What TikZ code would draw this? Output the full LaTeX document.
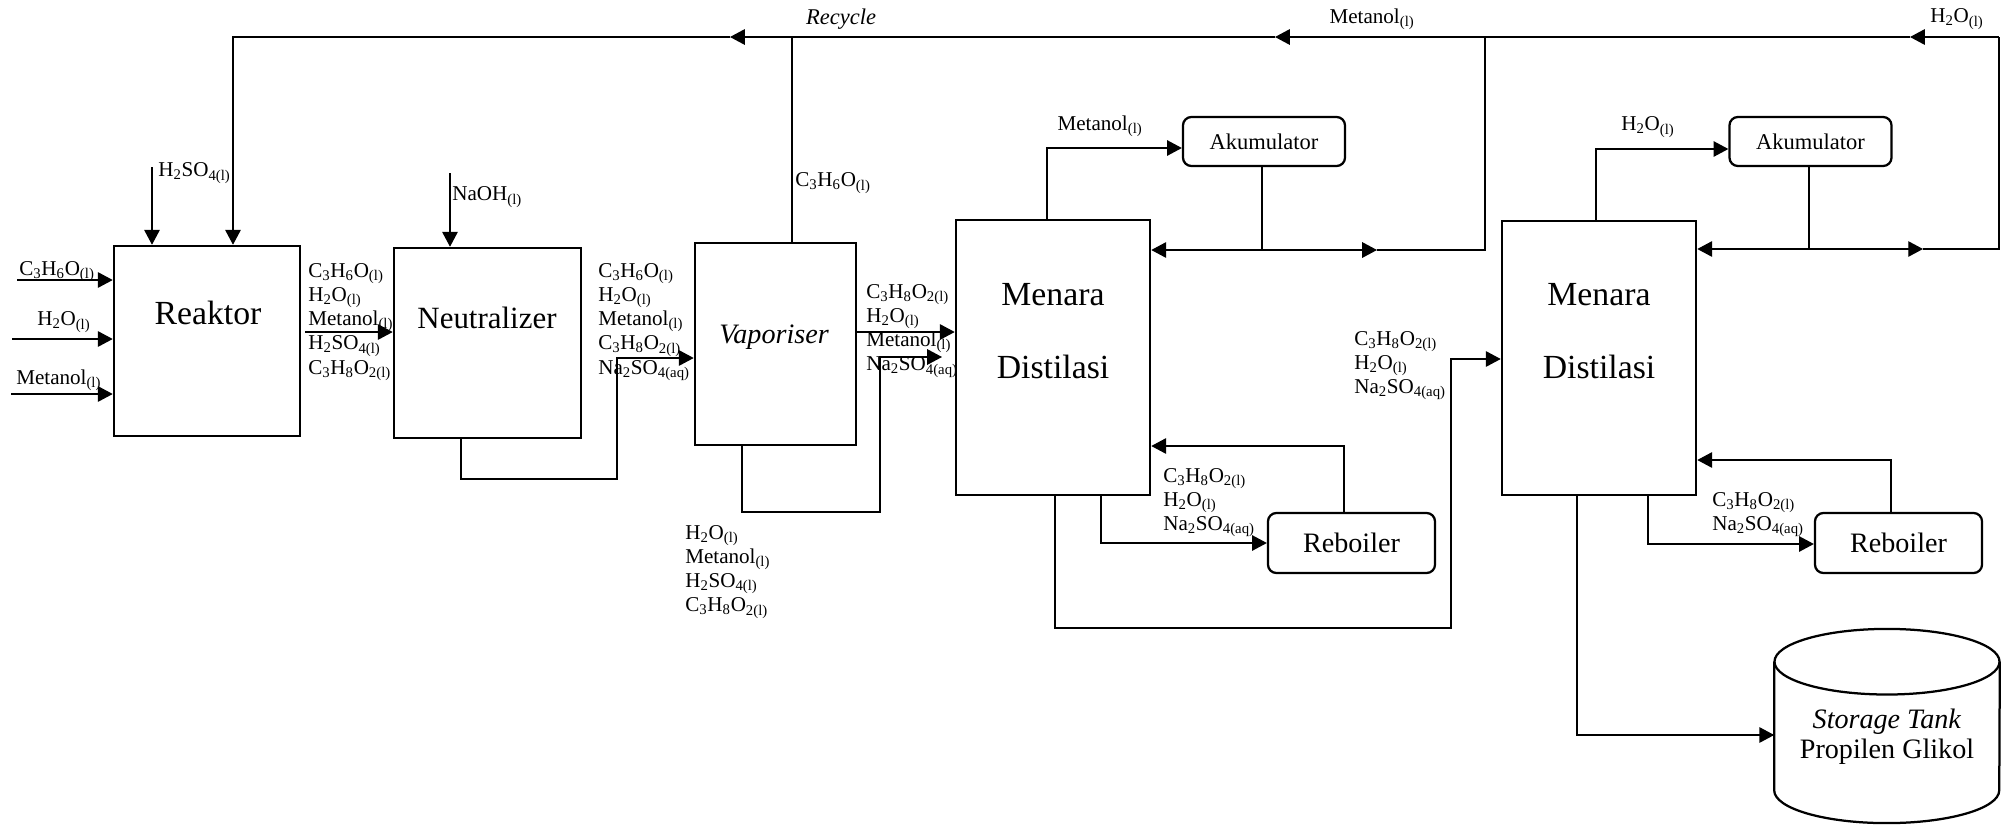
\documentclass[tikz,border=0pt]{standalone}
\usepackage{fontspec}
\setmainfont{Liberation Serif}
\usetikzlibrary{arrows.meta}

\newcommand{\subs}[1]{\textsubscript{#1}}

\tikzset{
  unit/.style={draw, fill=white, line width=1.8pt, inner sep=0pt},
  rbox/.style={draw, line width=1.6pt, rounded corners=6pt, inner sep=0pt},
  flow/.style={line width=0.9pt},
  lbl/.style={inner sep=0pt, font=\fontsize{15}{17.2}\selectfont, align=left},
  big/.style={font=\fontsize{24}{28}\selectfont},
}

\begin{document}
\begin{tikzpicture}[x=0.025cm, y=-0.025cm, >={Triangle[length=10.5pt,width=11pt]}]
\useasboundingbox (0,0) rectangle (2008,824);

% stream labels
\node[lbl, anchor=south west] (lfc) at (19,282) {C\subs{3}H\subs{6}O\subs{(l)}};
\node[lbl, anchor=west] (lfw) at (37,322) {H\subs{2}O\subs{(l)}};
\node[lbl, anchor=west] (lfm) at (16,380) {Metanol\subs{(l)}};
\node[lbl, anchor=west] (lfs) at (158,173) {H\subs{2}SO\subs{4(l)}};
\node[lbl, anchor=west] (lnaoh) at (452,197) {NaOH\subs{(l)}};
\node[lbl, anchor=north west] (lrn) at (308,263) {C\subs{3}H\subs{6}O\subs{(l)}\\H\subs{2}O\subs{(l)}\\Metanol\subs{(l)}\\H\subs{2}SO\subs{4(l)}\\C\subs{3}H\subs{8}O\subs{2(l)}};
\node[lbl, anchor=north west] (lnv) at (598,263) {C\subs{3}H\subs{6}O\subs{(l)}\\H\subs{2}O\subs{(l)}\\Metanol\subs{(l)}\\C\subs{3}H\subs{8}O\subs{2(l)}\\Na\subs{2}SO\subs{4(aq)}};
\node[lbl, anchor=west] (lrc) at (795,183) {C\subs{3}H\subs{6}O\subs{(l)}};
\node[lbl, anchor=north west] (lvc) at (866,284) {C\subs{3}H\subs{8}O\subs{2(l)}\\H\subs{2}O\subs{(l)}\\Metanol\subs{(l)}\\Na\subs{2}SO\subs{4(aq)}};
\node[lbl, anchor=north west] (lvb) at (685,525) {H\subs{2}O\subs{(l)}\\Metanol\subs{(l)}\\H\subs{2}SO\subs{4(l)}\\C\subs{3}H\subs{8}O\subs{2(l)}};
\node[lbl] (lme1) at (1100,126) {Metanol\subs{(l)}};
\node[lbl, anchor=north west] (lcr1) at (1163,468) {C\subs{3}H\subs{8}O\subs{2(l)}\\H\subs{2}O\subs{(l)}\\Na\subs{2}SO\subs{4(aq)}};
\node[lbl, anchor=north west] (lcc) at (1354,331) {C\subs{3}H\subs{8}O\subs{2(l)}\\H\subs{2}O\subs{(l)}\\Na\subs{2}SO\subs{4(aq)}};
\node[lbl] (lw2) at (1648,127) {H\subs{2}O\subs{(l)}};
\node[lbl, anchor=north west] (lcr2) at (1712,492) {C\subs{3}H\subs{8}O\subs{2(l)}\\Na\subs{2}SO\subs{4(aq)}};
\node[font=\fontsize{16}{18}\selectfont\itshape] (lrec) at (841,19) {Recycle};
\node[lbl] (lmet) at (1372,19) {Metanol\subs{(l)}};
\node[lbl] (lwat) at (1957,19) {H\subs{2}O\subs{(l)}};

% process units
\node[unit, minimum width=4.65cm, minimum height=4.75cm] (reak) at (207,341) {};
\node[big] (reaktxt) at (208,313) {Reaktor};
\node[unit, minimum width=4.675cm, minimum height=4.75cm] (neut) at (487.5,343) {};
\node[font=\fontsize{22}{26}\selectfont] (neuttxt) at (487,318) {Neutralizer};
\node[unit, minimum width=4.025cm, minimum height=5.05cm] (vap) at (775.5,344) {};
\node[font=\fontsize{20}{24}\selectfont\itshape] (vaptxt) at (774,337) {Vaporiser};
\node[unit, minimum width=4.85cm, minimum height=6.875cm] (col1) at (1053,357.5) {};
\node[big] (col1a) at (1053,295) {Menara};
\node[big] (col1b) at (1053,367) {Distilasi};
\node[unit, minimum width=4.85cm, minimum height=6.85cm] (col2) at (1599,358) {};
\node[big] (col2a) at (1599,295) {Menara};
\node[big] (col2b) at (1599,367) {Distilasi};

\node[rbox, minimum width=4.05cm, minimum height=1.225cm, font=\fontsize{16}{18}\selectfont] (akum1) at (1264,141.5) {Akumulator};
\node[rbox, minimum width=4.05cm, minimum height=1.225cm, font=\fontsize{16}{18}\selectfont] (akum2) at (1810.5,141.5) {Akumulator};
\node[rbox, minimum width=4.175cm, minimum height=1.5cm, font=\fontsize{20}{22}\selectfont] (reb1) at (1351.5,543) {Reboiler};
\node[rbox, minimum width=4.175cm, minimum height=1.5cm, font=\fontsize{20}{22}\selectfont] (reb2) at (1898.5,543) {Reboiler};

% storage tank
\node[inner sep=0pt, minimum width=5.625cm, minimum height=3.2cm] (tank) at (1887,726) {};
\draw[line width=1.6pt] (tank.north) ellipse [x radius=2.8125cm, y radius=0.82cm];
\draw[line width=1.6pt] (tank.north west) -- (tank.south west)
  arc[start angle=180, end angle=360, x radius=2.8125cm, y radius=0.82cm] -- (tank.north east);
\node[align=center, font=\fontsize{20}{21.5}\selectfont] (tanktxt) at (1887,737) {\textit{Storage Tank}\\Propilen Glikol};

% feeds
\coordinate (fc) at (17,280);
\coordinate (fw) at (12,339);
\coordinate (fm) at (11,394);
\coordinate (fs) at (152,167);
\coordinate (fn) at (450,173);
\draw[flow,->] (fc) -- (fc -| reak.west);
\draw[flow,->] (fw) -- (fw -| reak.west);
\draw[flow,->] (fm) -- (fm -| reak.west);
\draw[flow,->] (fs) -- (fs |- reak.north);
\draw[flow,->] (fn) -- (fn |- neut.north);

% recycle line
\coordinate (tr) at (1999,37);
\coordinate (t1) at (1910,37);
\coordinate (t2) at (1485,37);
\coordinate (t3) at (1275,37);
\coordinate (t4) at (792,37);
\coordinate (t5) at (730,37);
\coordinate (tl) at (233,37);
\draw[flow,->] (tr) -- (t1);
\draw[flow,->] (t1) -- (t3);
\draw[flow,->] (t3) -- (t5);
\draw[flow,->] (t5) -- (tl) -- (tl |- reak.north);
\draw[flow] (vap.north -| t4) -- (t4);

% main train
\coordinate (rn) at (305,332);
\draw[flow,->] (rn) -- (rn -| neut.west);
\coordinate (nb1) at (461,479);
\coordinate (nb2) at (617,358);
\draw[flow,->] (neut.south -| nb1) -- (nb1) -| (nb2) -- (nb2 -| vap.west);
\coordinate (vc) at (856,332);
\draw[flow,->] (vap.east |- vc) -- (vc -| col1.west);
\coordinate (vb1) at (742,512);
\coordinate (vb2) at (880,357);
\coordinate (vb3) at (942,357);
\draw[flow,->] (vap.south -| vb1) -- (vb1) -| (vb2) -- (vb3);

% column 1
\coordinate (c1t) at (1047,148);
\draw[flow,->] (col1.north -| c1t) -- (c1t) -- (c1t -| akum1.west);
\coordinate (a1) at (1262,250);
\coordinate (a1r) at (1377,250);
\draw[flow] (akum1.south -| a1) -- (a1);
\draw[flow,->] (a1) -- (a1 -| col1.east);
\draw[flow,->] (a1) -- (a1r);
\draw[flow] (a1r) -- (t2 |- a1) -- (t2);
\coordinate (cr1) at (1101,543);
\draw[flow,->] (col1.south -| cr1) -- (cr1) -- (cr1 -| reb1.west);
\coordinate (rc1) at (1344,446);
\draw[flow,->] (reb1.north -| rc1) -- (rc1) -- (rc1 -| col1.east);
\coordinate (cc1) at (1055,628);
\coordinate (cc2) at (1451,359);
\draw[flow,->] (col1.south -| cc1) -- (cc1) -| (cc2) -- (cc2 -| col2.west);

% column 2
\coordinate (c2t) at (1596,149);
\draw[flow,->] (col2.north -| c2t) -- (c2t) -- (c2t -| akum2.west);
\coordinate (a2) at (1809,249);
\coordinate (a2r) at (1923,249);
\draw[flow] (akum2.south -| a2) -- (a2);
\draw[flow,->] (a2) -- (a2 -| col2.east);
\draw[flow,->] (a2) -- (a2r);
\draw[flow] (a2r) -- (tr |- a2) -- (tr);
\coordinate (cr2) at (1648,544);
\draw[flow,->] (col2.south -| cr2) -- (cr2) -- (cr2 -| reb2.west);
\coordinate (rc2) at (1891,460);
\draw[flow,->] (reb2.north -| rc2) -- (rc2) -- (rc2 -| col2.east);
\coordinate (ct) at (1577,735);
\draw[flow,->] (col2.south -| ct) -- (ct) -- (ct -| tank.west);
\end{tikzpicture}
\end{document}
